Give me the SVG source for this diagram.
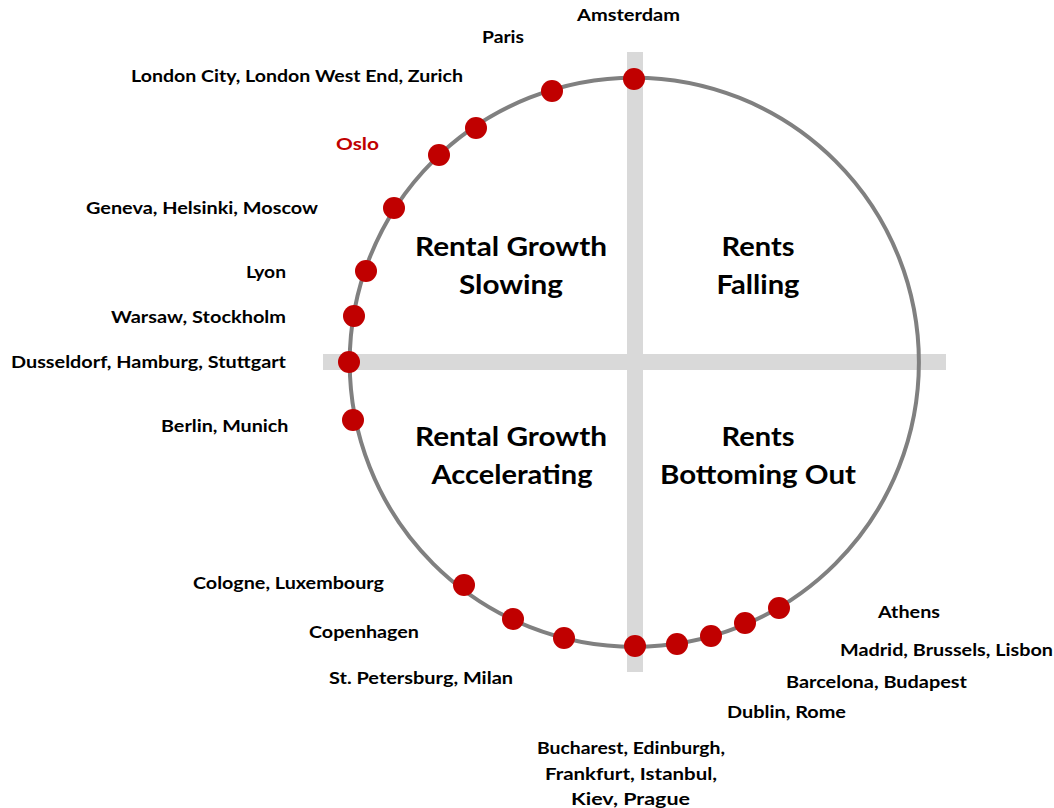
<svg xmlns="http://www.w3.org/2000/svg" width="1054" height="808" viewBox="0 0 1054 808">
<style>
  .lbl { font-family: Lato, "Open Sans", "Liberation Sans", sans-serif; font-weight: 700; font-size: 17.5px; fill: #000000; }
  .red { fill: #c00000; }
  .quad { font-family: Lato, "Open Sans", "Liberation Sans", sans-serif; font-weight: 700; font-size: 27px; fill: #000000; text-anchor: middle; }
  .bar { fill: #d9d9d9; }
  .ring { fill: none; stroke: #808080; stroke-width: 4; }
  .dot { fill: #c00000; }
</style>
<rect width="1054" height="808" fill="#ffffff"/>
<g id="axes">
  <rect class="bar" x="627" y="52" width="16" height="620"/>
  <rect class="bar" x="323" y="354" width="623" height="16"/>
</g>
<g id="cycle">
  <circle class="ring" cx="634.3" cy="362.3" r="284.6"/>
</g>
<g id="quadrants">
  <text class="quad" x="511" y="256" textLength="192" lengthAdjust="spacingAndGlyphs">Rental Growth</text>
  <text class="quad" x="511" y="294" textLength="104" lengthAdjust="spacingAndGlyphs">Slowing</text>
  <text class="quad" x="758" y="256" textLength="73" lengthAdjust="spacingAndGlyphs">Rents</text>
  <text class="quad" x="758" y="294" textLength="83" lengthAdjust="spacingAndGlyphs">Falling</text>
  <text class="quad" x="511" y="446" textLength="192" lengthAdjust="spacingAndGlyphs">Rental Growth</text>
  <text class="quad" x="512" y="484" textLength="161" lengthAdjust="spacingAndGlyphs">Accelerating</text>
  <text class="quad" x="758" y="446" textLength="73" lengthAdjust="spacingAndGlyphs">Rents</text>
  <text class="quad" x="758" y="484" textLength="196" lengthAdjust="spacingAndGlyphs">Bottoming Out</text>
</g>
<g id="n-amsterdam"><circle class="dot" cx="634" cy="79" r="11"/><text class="lbl" x="577" y="21" textLength="103" lengthAdjust="spacingAndGlyphs">Amsterdam</text></g>
<g id="n-paris"><circle class="dot" cx="552" cy="91" r="11"/><text class="lbl" x="482" y="43" textLength="42" lengthAdjust="spacingAndGlyphs">Paris</text></g>
<g id="n-london"><circle class="dot" cx="476" cy="128" r="11"/><text class="lbl" x="131" y="82" textLength="332" lengthAdjust="spacingAndGlyphs">London City, London West End, Zurich</text></g>
<g id="n-oslo"><circle class="dot" cx="439" cy="155" r="11"/><text class="lbl red" x="336" y="150" textLength="43" lengthAdjust="spacingAndGlyphs">Oslo</text></g>
<g id="n-geneva"><circle class="dot" cx="394" cy="208" r="11"/><text class="lbl" x="86" y="214" textLength="232" lengthAdjust="spacingAndGlyphs">Geneva, Helsinki, Moscow</text></g>
<g id="n-lyon"><circle class="dot" cx="366" cy="271" r="11"/><text class="lbl" x="246" y="277.5" textLength="40" lengthAdjust="spacingAndGlyphs">Lyon</text></g>
<g id="n-warsaw"><circle class="dot" cx="354" cy="316" r="11"/><text class="lbl" x="111" y="322.5" textLength="175" lengthAdjust="spacingAndGlyphs">Warsaw, Stockholm</text></g>
<g id="n-dusseldorf"><circle class="dot" cx="349" cy="362" r="11"/><text class="lbl" x="11" y="368" textLength="275" lengthAdjust="spacingAndGlyphs">Dusseldorf, Hamburg, Stuttgart</text></g>
<g id="n-berlin"><circle class="dot" cx="353" cy="420" r="11"/><text class="lbl" x="161" y="431.5" textLength="127.5" lengthAdjust="spacingAndGlyphs">Berlin, Munich</text></g>
<g id="n-cologne"><circle class="dot" cx="464" cy="585" r="11"/><text class="lbl" x="193" y="589" textLength="191" lengthAdjust="spacingAndGlyphs">Cologne, Luxembourg</text></g>
<g id="n-copenhagen"><circle class="dot" cx="513" cy="619" r="11"/><text class="lbl" x="309" y="638" textLength="110" lengthAdjust="spacingAndGlyphs">Copenhagen</text></g>
<g id="n-stpetersburg"><circle class="dot" cx="564" cy="638" r="11"/><text class="lbl" x="329" y="684" textLength="184" lengthAdjust="spacingAndGlyphs">St. Petersburg, Milan</text></g>
<g id="n-bucharest"><circle class="dot" cx="635" cy="646" r="11"/>
  <text class="lbl" text-anchor="middle" x="631" y="754" textLength="188" lengthAdjust="spacingAndGlyphs">Bucharest, Edinburgh,</text>
  <text class="lbl" text-anchor="middle" x="631" y="780" textLength="172" lengthAdjust="spacingAndGlyphs">Frankfurt, Istanbul,</text>
  <text class="lbl" text-anchor="middle" x="630.5" y="805" textLength="119" lengthAdjust="spacingAndGlyphs">Kiev, Prague</text>
</g>
<g id="n-dublin"><circle class="dot" cx="677" cy="644" r="11"/><text class="lbl" x="727" y="717.5" textLength="119" lengthAdjust="spacingAndGlyphs">Dublin, Rome</text></g>
<g id="n-barcelona"><circle class="dot" cx="711" cy="636" r="11"/><text class="lbl" x="786" y="688" textLength="181" lengthAdjust="spacingAndGlyphs">Barcelona, Budapest</text></g>
<g id="n-madrid"><circle class="dot" cx="745" cy="623" r="11"/><text class="lbl" x="840" y="656" textLength="213" lengthAdjust="spacingAndGlyphs">Madrid, Brussels, Lisbon</text></g>
<g id="n-athens"><circle class="dot" cx="779" cy="608" r="11"/><text class="lbl" x="878" y="617.5" textLength="62" lengthAdjust="spacingAndGlyphs">Athens</text></g>
</svg>
